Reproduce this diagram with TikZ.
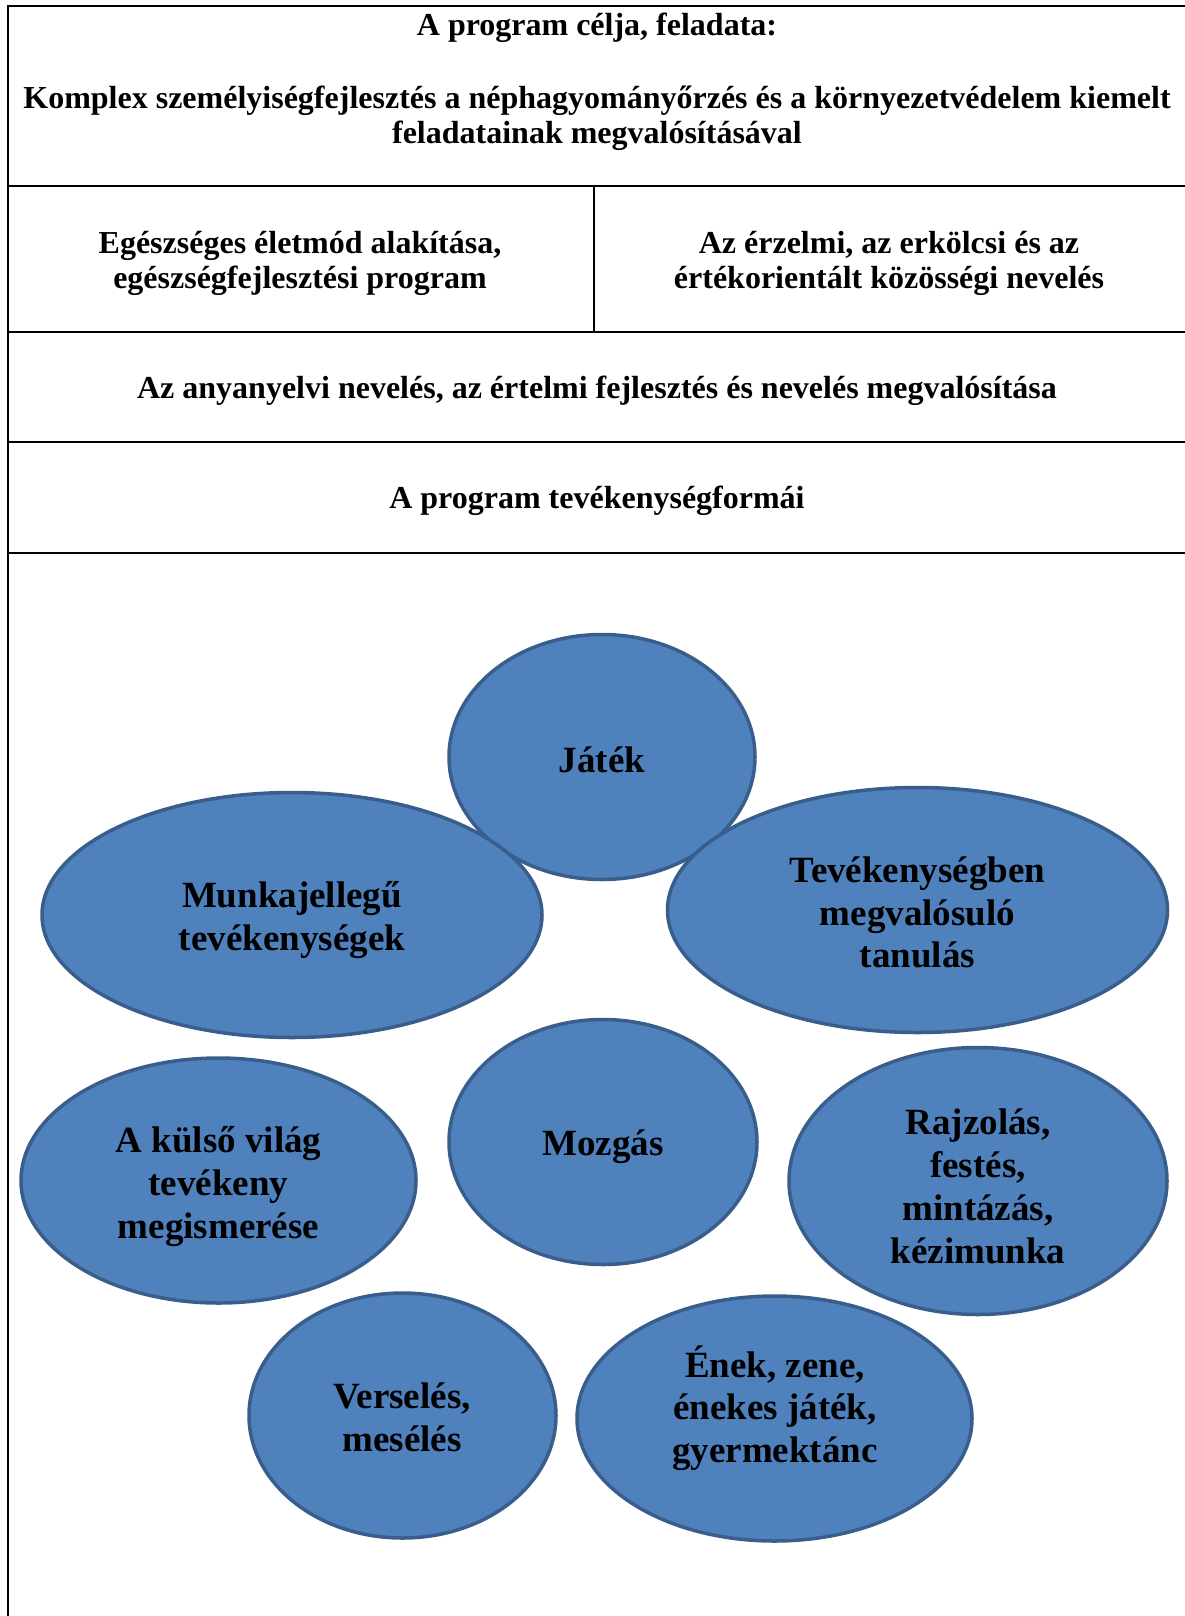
\documentclass[tikz,border=0pt]{standalone}
\usepackage{fontspec}
\setmainfont{Liberation Serif}
\usetikzlibrary{shapes.geometric}
\definecolor{blobfill}{HTML}{4F81BD}
\definecolor{blobline}{HTML}{3A5E8C}
\begin{document}
\begin{tikzpicture}[x=1pt,y=-1pt,
  rule/.style={line width=2pt,black},
  tabtext/.style={inner sep=0pt,align=center,font=\bfseries\fontsize{32}{35.5}\selectfont},
  blob/.style={ellipse,draw=blobline,fill=blobfill,line width=3.5pt,inner sep=0pt},
  blobtext/.style={inner sep=0pt,align=center,font=\bfseries\fontsize{37}{42.8}\selectfont}]
\useasboundingbox (0,0) rectangle (1184,1616);
\fill[white] (0,0) rectangle (1184,1616);
% table rules
\draw[rule] (8,6) -- (1190,6);
\draw[rule] (8,5) -- (8,1620);
\draw[rule] (8,186.5) -- (1190,186.5);
\draw[rule] (8,332) -- (1190,332);
\draw[rule] (8,442) -- (1190,442);
\draw[rule] (8,552.5) -- (1190,552.5);
\draw[rule] (594,186.5) -- (594,332);
% table texts
\node[tabtext] (t1) at (597,28) {A program célja, feladata:};
\node[tabtext] (t2) at (597,118.5) {Komplex személyiségfejlesztés a néphagyományőrzés és a környezetvédelem kiemelt\\feladatainak megvalósításával};
\node[tabtext] (t3) at (300,263.5) {Egészséges életmód alakítása,\\egészségfejlesztési program};
\node[tabtext] (t4) at (889,263.5) {Az érzelmi, az erkölcsi és az\\értékorientált közösségi nevelés};
\node[tabtext] (t5) at (597,390.5) {Az anyanyelvi nevelés, az értelmi fejlesztés és nevelés megvalósítása};
\node[tabtext] (t6) at (597,501) {A program tevékenységformái};
% ellipses
\node[blob,minimum width=306pt,minimum height=245pt] (jatek) at (602,757) {};
\node[blob,minimum width=500pt,minimum height=245pt] (munka) at (292,915) {};
\node[blob,minimum width=500pt,minimum height=245pt] (tanul) at (917.5,910) {};
\node[blob,minimum width=308pt,minimum height=245pt] (mozgas) at (603,1142) {};
\node[blob,minimum width=395pt,minimum height=245pt] (kulso) at (218.5,1180.5) {};
\node[blob,minimum width=378pt,minimum height=267pt] (rajz) at (978,1181) {};
\node[blob,minimum width=307pt,minimum height=245pt] (vers) at (402.5,1415.5) {};
\node[blob,minimum width=395pt,minimum height=245pt] (enek) at (774.5,1418.5) {};
% ellipse texts
\node[blobtext] (ljatek) at (602,759.5) {Játék};
\node[blobtext] (lmunka) at (292,920) {Munkajellegű\\tevékenységek};
\node[blobtext] (ltanul) at (917.5,912.5) {Tevékenységben\\megvalósuló\\tanulás};
\node[blobtext] (lmozgas) at (603,1147) {Mozgás};
\node[blobtext] (lkulso) at (218.5,1186.5) {A külső világ\\tevékeny\\megismerése};
\node[blobtext] (lrajz) at (978,1186.5) {Rajzolás,\\festés,\\mintázás,\\kézimunka};
\node[blobtext] (lvers) at (402,1417) {Verselés,\\mesélés};
\node[blobtext] (lenek) at (775,1408) {Ének, zene,\\énekes játék,\\gyermektánc};
\end{tikzpicture}
\end{document}
